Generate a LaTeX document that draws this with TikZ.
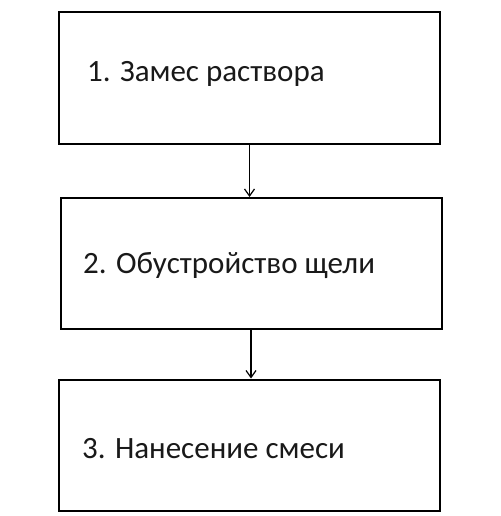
\documentclass[tikz,border=0pt]{standalone}
\usepackage{fontspec}
\setmainfont{Carlito}
\usetikzlibrary{arrows.meta}
\begin{document}
\begin{tikzpicture}[x=1pt,y=-1pt,
  stepbox/.style={draw=black,line width=2pt,minimum width=381pt,minimum height=131pt,inner sep=0pt,fill=white},
  steptext/.style={anchor=base west,inner sep=0pt,font=\fontsize{31}{37}\selectfont,text=black!90},
  flow/.style={line width=1.2pt,-{Straight Barb[length=7pt,width=10pt,line width=1.2pt]}}]
\useasboundingbox[fill=white] (0,0) rectangle (500,516);
\node[stepbox] (b1) at (249.5,78) {};
\node[stepbox] (b2) at (251,263.5) {};
\node[stepbox] (b3) at (249,445) {};
\node[steptext] (t1) at (87,82) {1. Замес раствора};
\node[steptext] (t2) at (83,273) {2. Обустройство щели};
\node[steptext] (t3) at (82,458) {3. Нанесение смеси};
\draw[flow] (b1.south) -- (b1.south |- b2.north);
\draw[flow] (b2.south) -- (b2.south |- b3.north);
\end{tikzpicture}
\end{document}
